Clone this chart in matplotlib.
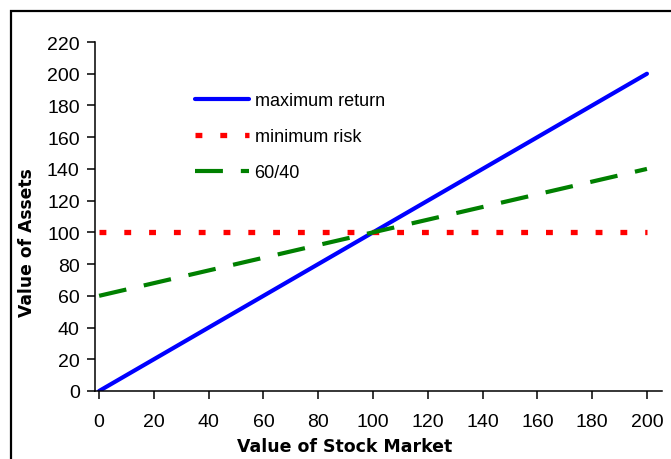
import matplotlib.pyplot as plt
from matplotlib.patches import Rectangle

plt.rcParams['font.family'] = ['Liberation Sans', 'DejaVu Sans']

# valores
mercado = [0, 10, 20, 30, 40, 50, 60, 70, 80, 90, 100,
           110, 120, 130, 140, 150, 160, 170, 180, 190, 200]
max_retorno = [0, 10, 20, 30, 40, 50, 60, 70, 80, 90, 100,
               110, 120, 130, 140, 150, 160, 170, 180, 190, 200]
min_risco = [100] * 21
misto_60_40 = [60, 64, 68, 72, 76, 80, 84, 88, 92, 96, 100,
               104, 108, 112, 116, 120, 124, 128, 132, 136, 140]

fig = plt.figure(figsize=(6.71, 4.6), dpi=100)
ax = fig.add_axes([95 / 671, 1 - 392 / 460, (662 - 95) / 671, (392 - 43) / 460])

ax.plot(mercado, max_retorno, color='#0000ff', lw=3, solid_capstyle='round',
        label='maximum return')
ax.plot(mercado, min_risco, color='#ff0000', lw=3.8, linestyle=(0, (1.3, 3.4)),
        label='minimum risk')
ax.plot(mercado, misto_60_40, color='#008000', lw=3, linestyle=(0, (6.7, 4.3)),
        label='60/40')

ax.set_xlim(-1.5, 205.5)
ax.set_ylim(0, 220)
ax.set_xticks(range(0, 201, 20))
ax.set_yticks(range(0, 221, 20))
for s in ['top', 'right']:
    ax.spines[s].set_visible(False)
for s in ['left', 'bottom']:
    ax.spines[s].set_linewidth(1.1)
ax.tick_params(axis='both', direction='out', length=6, width=1.1, labelsize=14)
ax.tick_params(axis='x', pad=10)
ax.tick_params(axis='y', pad=5)

fig.text(345 / 671, 1 - 447 / 460, 'Value of Stock Market', ha='center', va='center',
         fontsize=12.5, fontweight='bold', family='DejaVu Sans')
fig.text(27 / 671, 1 - 243 / 460, 'Value of Assets', ha='center', va='center',
         rotation=90, fontsize=12.3, fontweight='bold', family='DejaVu Sans')

ax.legend(loc='upper left', bbox_to_anchor=(195 / 671, 1 - 93 / 460),
          bbox_transform=fig.transFigure, frameon=False, fontsize=13,
          handlelength=3.0, handletextpad=0.3, labelspacing=1.05, borderpad=0,
          borderaxespad=0)

# moldura do gráfico (só topo e esquerda visíveis)
fig.patches.append(Rectangle((11 / 671, -0.1), 1.2, 1 - 12 / 460 + 0.1,
                             transform=fig.transFigure, fill=False,
                             edgecolor='black', lw=1.6))

fig.savefig('out.png', dpi=100)
